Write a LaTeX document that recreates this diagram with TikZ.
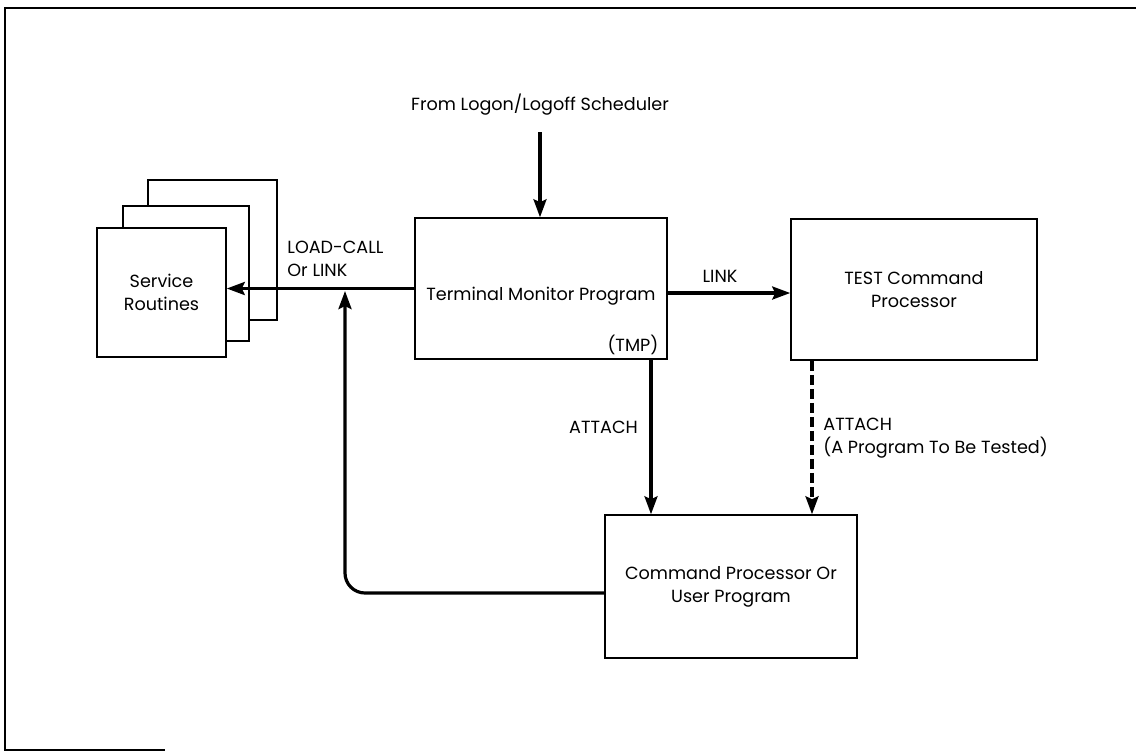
\documentclass[tikz,border=0pt]{standalone}
\usepackage{fontspec}
\setmainfont{Poppins}
\usetikzlibrary{arrows.meta,positioning,calc}
\tikzset{>={Stealth[length=9pt,width=6.5pt,inset=1.5pt]}}
\tikzset{
  box/.style={draw,line width=0.75pt,fill=white,align=center,inner sep=0pt,
    font=\fontsize{8.8}{11.5}\selectfont},
  lbl/.style={inner sep=0pt,font=\fontsize{8.8}{11.5}\selectfont},
  flow/.style={->,line width=1.6pt}
}

\begin{document}
\begin{tikzpicture}[x=0.5pt,y=-0.5pt]
\useasboundingbox (0,0) rectangle (1136,752);
\draw[line width=0.7pt] (1136,8) -- (5,8) -- (5,750) -- (165,750);

% service routines, stacked
\node[box,minimum width=64.5pt,minimum height=70pt] (svc3) at (212.5,250) {};
\node[box,minimum width=63pt,minimum height=67.5pt] (svc2) at (186,273.5) {};
\node[box,minimum width=64.5pt,minimum height=64.5pt] (svc) at (161.5,292.5) {Service\\Routines};

\node[box,minimum width=126pt,minimum height=70.5pt,text height=14pt] (tmp) at (541,288.5) {Terminal Monitor Program};
\node[lbl,anchor=south east] (tmpabbr) at ($(tmp.south east)+(-9,-5)$) {(TMP)};
\node[box,minimum width=123pt,minimum height=70.5pt] (test) at (914,289.5) {TEST Command\\Processor};
\node[box,minimum width=126pt,minimum height=71.5pt] (cp) at (731,586.5) {Command Processor Or\\User Program};

\node[lbl] (sched) at (540,105) {From Logon/Logoff Scheduler};
\node[lbl,align=left,anchor=west] (loadcall) at (287,258.5) {LOAD-CALL\\Or LINK};
\node[lbl] (link) at (720,276) {LINK};
\node[lbl] (attach) at (603.5,427) {ATTACH};
\node[lbl,align=left,anchor=west] (attachtest) at (823,438.5) {ATTACH\\(A Program To Be Tested)};

\coordinate (join) at (345,291);
\coordinate (attx) at (651,0);
\coordinate (dashx) at (812,0);

\draw[flow,shorten <=8pt] (sched.south) -- (tmp.north -| sched.south);
\draw[flow] (tmp.west) -- (tmp.west -| svc.east);
\draw[flow] ($(tmp.east)+(0,4.5)$) -- ($(tmp.east -| test.west)+(0,4.5)$);
\draw[flow] (tmp.south -| attx) -- (cp.north -| attx);
\draw[flow,dash pattern=on 5pt off 2pt] (test.south -| dashx) -- (cp.north -| dashx);
\draw[flow,rounded corners=10pt] ($(cp.west)+(0,6.5)$) -| (join);
\end{tikzpicture}
\end{document}
